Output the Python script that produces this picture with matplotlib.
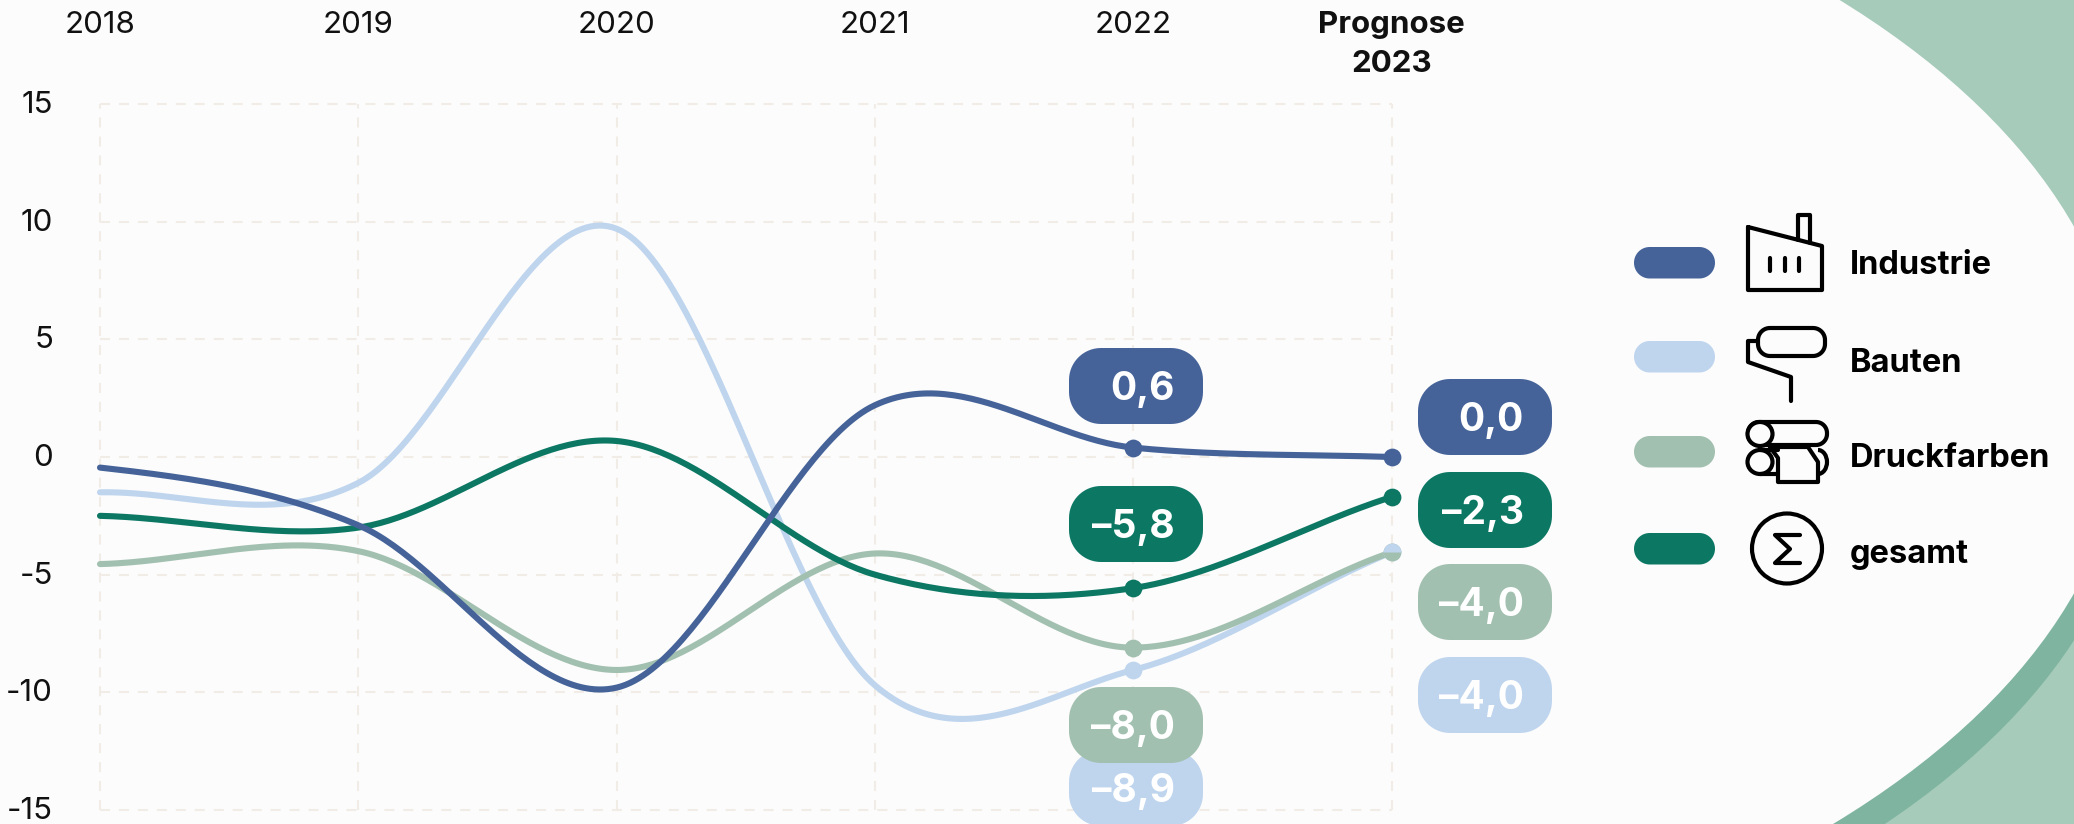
import numpy as np
import matplotlib
matplotlib.use("Agg")
import matplotlib.pyplot as plt
from matplotlib.patches import Ellipse, Circle, Polygon, Rectangle, Arc

years = [2018, 2019, 2020, 2021, 2022, 2023]
year_labels = ["2018", "2019", "2020", "2021", "2022", "2023"]
y_ticks = [15, 10, 5, 0, -5, -10, -15]

industrie = [-0.45, -2.9, -9.8, 2.2, 0.4, 0.0]
bauten = [-1.5, -1.1, 9.7, -9.7, -9.05, -4.05]
druckfarben = [-4.55, -4.0, -9.05, -4.1, -8.1, -4.05]
gesamt = [-2.5, -3.0, 0.68, -5.0, -5.57, -1.7]

names = ["Industrie", "Bauten", "Druckfarben", "gesamt"]
blue = "#456399"
light = "#BFD5EE"
sage = "#A2C0B0"
green = "#0C7864"
paper = "#FCFCFC"

FONT = "Inter"
W, H = 2074, 824


def smooth(xs, ys, n=60):
    # Catmull-Rom style curve through the yearly values
    ys = np.array(ys, float)
    m = np.zeros(len(ys))
    m[1:-1] = (ys[2:] - ys[:-2]) / 2
    m[0] = (ys[1] - ys[0]) / 2
    m[-1] = (ys[-1] - ys[-2]) * 0.9
    out_x, out_y = [], []
    for i in range(len(ys) - 1):
        t = np.linspace(0, 1, n)
        out_x.append(xs[i] + t)
        out_y.append((2 * t**3 - 3 * t**2 + 1) * ys[i] + (t**3 - 2 * t**2 + t) * m[i]
                     + (-2 * t**3 + 3 * t**2) * ys[i + 1] + (t**3 - t**2) * m[i + 1])
    return np.concatenate(out_x), np.concatenate(out_y)


def pill(ax, x0, y0, w, h, r, **kw):
    # rounded box with true circular corners, pixel coordinates
    a = np.linspace(0, np.pi / 2, 16)
    c, s = r * np.cos(a), r * np.sin(a)
    px = np.concatenate([x0 + w - r + c, x0 + r - s, x0 + r - c, x0 + w - r + s])
    py = np.concatenate([y0 + h - r + s, y0 + h - r + c, y0 + r - s, y0 + r - c])
    p = Polygon(np.column_stack([px, py]), closed=True, **kw)
    ax.add_patch(p)


fig = plt.figure(figsize=(W / 100, H / 100), dpi=100, facecolor=paper)

# background in pixel coordinates
bg = fig.add_axes([0, 0, 1, 1])
bg.set_xlim(0, W)
bg.set_ylim(H, 0)
bg.axis("off")
bg.add_patch(Rectangle((1500, 0), W - 1500, H, color="#A6CBBA", lw=0))
bg.add_patch(Ellipse((1014, 434), 2250, 1232, color="#7FB4A0", lw=0))
bg.add_patch(Ellipse((1000, 410), 2250, 1232, color=paper, lw=0))
bg.add_patch(Rectangle((0, 0), 1500, H, color=paper, lw=0))

# chart
ax = fig.add_axes([100 / W, 1 - 810 / H, (1391.5 - 100) / W, (810 - 104) / H])
ax.patch.set_alpha(0)
ax.set_xlim(2018, 2023)
ax.set_ylim(-15, 15)
for s in ax.spines.values():
    s.set_visible(False)
ax.set_xticks(years)
ax.set_yticks(y_ticks)
ax.set_xticklabels([])
ax.set_yticklabels([])
ax.tick_params(length=0)
ax.grid(True, color="#F1EDE6", lw=1.5, dashes=(4.8, 4.3))
ax.set_axisbelow(True)
for g in ax.get_xgridlines() + ax.get_ygridlines():
    g.set_clip_on(False)

for yr, lab in zip(years, year_labels):
    bold = yr == 2023
    ax.annotate(lab, (yr, 15), xytext=(0, 32 if bold else 71), textcoords="offset pixels",
                ha="center", va="baseline", fontsize=22.5,
                fontweight="bold" if bold else "normal", family=FONT, color="#111111")
ax.annotate("Prognose", (2023, 15), xytext=(0, 71), textcoords="offset pixels",
            ha="center", va="baseline", fontsize=22.5, fontweight="bold", family=FONT,
            color="#111111")
for t in y_ticks:
    ax.annotate(str(t), (2018, t), xytext=(-47, -9), textcoords="offset pixels",
                ha="right", va="baseline", fontsize=22.5, family=FONT, color="#111111")

series = [(bauten, light), (druckfarben, sage), (gesamt, green), (industrie, blue)]
for vals, col in series:
    sx, sy = smooth(years, vals)
    ax.plot(sx, sy, color=col, lw=4.4, solid_capstyle="round", clip_on=False, zorder=3)
    ax.plot(years[4:], vals[4:], "o", color=col, ms=12.8, mew=0, clip_on=False, zorder=4)
# the two 2023 dots coincide, half of each shows
ax.plot(years[5:], bauten[5:], "o", color=light, fillstyle="top", markerfacecoloralt="none",
        ms=12.8, mew=0, clip_on=False, zorder=5)

# value badges, drawn over the chart
top = fig.add_axes([0, 0, 1, 1])
top.set_xlim(0, W)
top.set_ylim(H, 0)
top.axis("off")
top.patch.set_alpha(0)

badges = [
    ("0,6", 1069, 348, blue), ("\u20135,8", 1069, 486, green),
    ("\u20138,9", 1069, 750, light), ("\u20138,0", 1069, 687, sage),
    ("0,0", 1418, 379, blue), ("\u20132,3", 1418, 472, green),
    ("\u20134,0", 1418, 564, sage), ("\u20134,0", 1418, 657, light),
]
for txt, x0, y0, col in badges:
    pill(top, x0, y0, 134, 76, 32, fc=col, ec="none", clip_on=False)
    top.text(x0 + 106, y0 + 52, txt, ha="right", va="baseline", color="white",
             fontsize=28, fontweight="bold", family=FONT)

# legend pills and labels
legend_y = [247, 341, 436, 533]
legend_base = [274, 372, 467, 563]
for nm, ly, ty, col in zip(names, legend_y, legend_base, [blue, light, sage, green]):
    pill(top, 1634, ly, 81, 31.5, 15.7, fc=col, ec="none")
    top.text(1850, ty, nm, ha="left", va="baseline", fontsize=23.5,
             fontweight="bold", family=FONT, color="black")

ink = dict(color="black", lw=3, solid_capstyle="round", solid_joinstyle="round")
# factory icon
top.plot([1748, 1748, 1822, 1822, 1748], [227, 290, 290, 246, 227], **ink)
top.plot([1798, 1798, 1810, 1810], [240, 215, 215, 243], **ink)
for x in [1770, 1785, 1799]:
    top.plot([x, x], [258, 271], **ink)
# roller icon
pill(top, 1758, 328, 67, 28, 12, fc="none", ec="black", lw=3)
top.plot([1758, 1748, 1748, 1791, 1791], [341, 341, 362, 377, 401], **ink)
# paper rolls icon
pill(top, 1748, 422, 79, 23, 11, fc="none", ec="black", lw=3)
top.add_patch(Ellipse((1760, 434), 25, 24, fc=paper, ec="black", lw=3))
top.plot([1760, 1778], [450, 450], **ink)
top.plot([1760, 1778], [474, 474], **ink)
top.add_patch(Ellipse((1760, 462), 25, 24, fc=paper, ec="black", lw=3))
top.add_patch(Arc((1818, 462), 18, 24, theta1=-90, theta2=90, color="black", lw=3))
top.plot([1770, 1778, 1778, 1818, 1818, 1808, 1770], [447, 458, 482, 482, 462, 447, 447], **ink)
# sigma icon
top.add_patch(Circle((1787, 548.5), 35, fc="none", ec="black", lw=3))
top.plot([1800, 1775, 1790, 1775, 1800], [535, 535, 549, 563, 563], **ink)

fig.savefig("out.png", dpi=100, facecolor=fig.get_facecolor())
plt.close(fig)
